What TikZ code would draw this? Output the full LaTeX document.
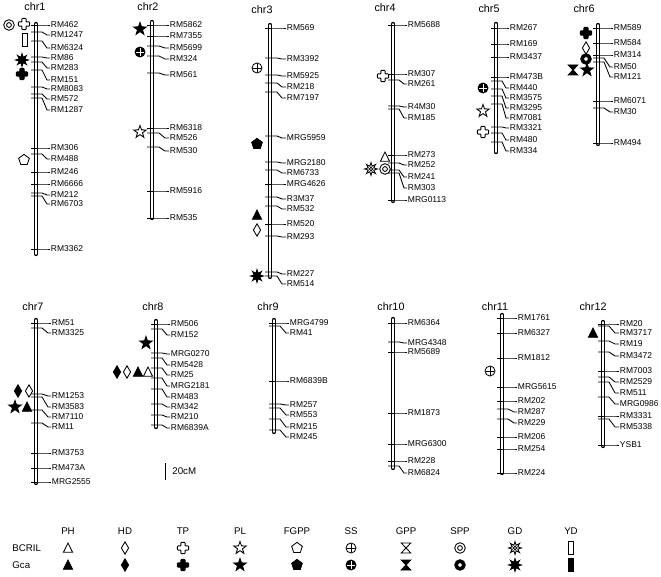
\documentclass[tikz,border=0pt]{standalone}
\usepackage{fontspec}
\setmainfont{Liberation Sans}
\usepackage{xcolor}
\usepackage{tikz}

% trait symbols, #1 = fill (white for BCRIL, black for Gca)
\tikzset{
    ph/.pic={\draw[fill=#1] (0,-5) -- (4.6,4.3) -- (-4.6,4.3) -- cycle;},
    hd/.pic={\draw[fill=#1] (0,-6.2) -- (3.6,0) -- (0,6.2) -- (-3.6,0) -- cycle;},
    tp/.pic={\draw[fill=#1, rounded corners=0.6pt] (-2.1,-5.6) -- (2.1,-5.6) -- (2.1,-2.1) -- (5.6,-2.1) -- (5.6,2.1) -- (2.1,2.1) -- (2.1,5.6) -- (-2.1,5.6) -- (-2.1,2.1) -- (-5.6,2.1) -- (-5.6,-2.1) -- (-2.1,-2.1) -- cycle;},
    pl/.pic={\draw[fill=#1] (-90:6.6) \foreach \a in {-90,-18,54,126,198} {-- ({\a+36}:2.6) -- ({\a+72}:6.6)} -- cycle;},
    fgpp/.pic={\draw[fill=#1] (-90:5.6) -- (-18:5.6) -- (54:5.6) -- (126:5.6) -- (198:5.6) -- cycle;},
    ss/.pic={\colorlet{symin}{-#1}
        \draw[fill=#1] (0,0) circle (5);
        \draw[symin] (-4.3,0) -- (4.3,0) (0,-4.3) -- (0,4.3);},
    gpp/.pic={\draw[fill=#1] (-4.8,-5) -- (4.8,-5) -- (-4.8,5) -- (4.8,5) -- cycle;},
    spp/.pic={\draw[fill=#1] (0,0) circle (5.3);
        \draw[fill=white] (0,0) circle (2.4);},
    gd/.pic={\draw[fill=#1] (0:6.4) \foreach \a in {0,45,...,315} {-- ({\a+22.5}:3) -- ({\a+45}:6.4)} -- cycle;
        \draw (0,0) circle (1.8);},
    yd/.pic={\draw[fill=#1] (-2.2,-6.5) rectangle (2.2,6.5);},
}

\begin{document}
\begin{tikzpicture}[
    x=1pt, y=-1pt, line width=0.85pt,
    chrom/.style={line width=1.45pt, double=white, double distance=1.5pt, line cap=round},
    tick/.style={line width=0.85pt},
    mk/.style={anchor=west, inner sep=0.5pt, font=\fontsize{8.5}{9}\selectfont},
    chrlab/.style={font=\fontsize{10.8}{12}\selectfont, inner sep=1pt},
    leg/.style={font=\fontsize{9.7}{11}\selectfont, inner sep=1pt},
]
\fill[white] (0,0) rectangle (661,577);

% chr1
\node[chrlab] (chr1) at (35,7) {chr1};
\draw[chrom] (36,24) -- (36,254);
\foreach \m/\t/\l [count=\i] in {RM462/25/25, RM1247/32/35, RM6324/41/48, RM86/57/58, RM283/62/68, RM151/70/80, RM8083/87/89, RM572/94/99, RM1287/98/110, RM306/148/148, RM488/154/159, RM246/172/172, RM6666/184/184, RM212/193/195, RM6703/196/204, RM3362/249/249} {
    \node[mk] (c1m\i) at (50,\l) {\m};
    \draw[tick] (31,\t) -- (42,\t) -- (47,\l) -- (c1m\i.west);
}
\pic at (9,25) {spp=white};
\pic at (24,24) {tp=white};
\pic at (25,40) {yd=white};
\pic at (22,60) {gd=black};
\pic at (22,74) {tp=black};
\pic at (24,160) {fgpp=white};

% chr2
\node[chrlab] (chr2) at (148,7) {chr2};
\draw[chrom] (152,22) -- (152,218);
\foreach \m/\t/\l [count=\i] in {RM5862/25/25, RM7355/36/36, RM5699/46/48, RM324/56/59, RM561/73/75, RM6318/128/128, RM526/133/138, RM530/147/151, RM5916/191/191, RM535/218/218} {
    \node[mk] (c2m\i) at (169,\l) {\m};
    \draw[tick] (147,\t) -- (159,\t) -- (165,\l) -- (c2m\i.west);
}
\pic at (140,29) {pl=black};
\pic at (140,52) {ss=black};
\pic at (140,132) {pl=white};

% chr3
\node[chrlab] (chr3) at (262,10) {chr3};
\draw[chrom] (270,25) -- (270,277);
\foreach \m/\t/\l [count=\i] in {RM569/28/28, RM3392/58/59, RM5925/75/76, RM218/83/87, RM7197/92/98, MRG5959/136/138, MRG2180/162/163, RM6733/170/173, MRG4626/184/184, R3M37/197/199, RM532/206/209, RM520/224/224, RM293/236/237, RM227/272/274, RM514/276/284} {
    \node[mk] (c3m\i) at (286,\l) {\m};
    \draw[tick] (265,\t) -- (277,\t) -- (282,\l) -- (c3m\i.west);
}
\pic at (257,68) {ss=white};
\pic at (257,144) {fgpp=black};
\pic at (257,215) {ph=black};
\pic at (257,230) {hd=white};
\pic at (257,276) {gd=black};

% chr4
\node[chrlab] (chr4) at (385,8) {chr4};
\draw[chrom] (393,24) -- (393,201);
\foreach \m/\t/\l [count=\i] in {RM5688/25/25, RM307/74/74, RM261/80/84, R4M30/106/107, RM185/109/118, RM273/155/155, RM252/163/165, RM241/170/177, RM303/173/188, MRG0113/200/200} {
    \node[mk] (c4m\i) at (407,\l) {\m};
    \draw[tick] (388,\t) -- (399,\t) -- (404,\l) -- (c4m\i.west);
}
\pic at (383,76) {tp=white};
\pic at (385,157) {ph=white};
\pic at (385,169) {spp=white};
\pic at (371,169) {gd=white};

% chr5
\node[chrlab] (chr5) at (489,9) {chr5};
\draw[chrom] (496,24) -- (496,152);
\foreach \m/\t/\l [count=\i] in {RM267/28/28, RM169/44/44, RM3437/57/57, RM473B/77/77, RM440/81/88, RM3575/89/98, RM3295/96/108, RM7081/104/118, RM3321/127/128, RM480/133/140, RM334/142/151} {
    \node[mk] (c5m\i) at (509,\l) {\m};
    \draw[tick] (491,\t) -- (502,\t) -- (506,\l) -- (c5m\i.west);
}
\pic at (483,88) {ss=black};
\pic at (483,111) {pl=white};
\pic at (483,132) {tp=white};

% chr6
\node[chrlab] (chr6) at (584,9) {chr6};
\draw[chrom] (598,25) -- (598,144);
\foreach \m/\t/\l [count=\i] in {RM589/28/28, RM584/43/43, RM314/55/55, RM50/58/67, RM121/62/77, RM6071/101/101, RM30/108/112, RM494/143/143} {
    \node[mk] (c6m\i) at (613,\l) {\m};
    \draw[tick] (593,\t) -- (604,\t) -- (610,\l) -- (c6m\i.west);
}
\pic at (586,33) {tp=black};
\pic at (586,48) {hd=white};
\pic at (586,59) {spp=black};
\pic at (573,70) {gpp=black};
\pic at (587,70) {pl=black};

% chr7
\node[chrlab] (chr7) at (33,307) {chr7};
\draw[chrom] (36,320) -- (36,483);
\foreach \m/\t/\l [count=\i] in {RM51/323/323, RM3325/328/333, RM1253/394/396, RM3583/397/407, RM7110/410/417, RM11/423/427, RM3753/453/453, RM473A/468/468, MRG2555/482/482} {
    \node[mk] (c7m\i) at (51,\l) {\m};
    \draw[tick] (31,\t) -- (42,\t) -- (48,\l) -- (c7m\i.west);
}
\pic at (18,391) {hd=black};
\pic at (29,391) {hd=white};
\pic at (15,407) {pl=black};
\pic at (27,407) {ph=black};

% chr8
\node[chrlab] (chr8) at (153,307) {chr8};
\draw[chrom] (156,321) -- (156,427);
\foreach \m/\t/\l [count=\i] in {RM506/324/324, RM152/329/335, MRG0270/353/354, RM5428/358/365, RM25/368/375, MRG2181/378/386, RM483/389/397, RM342/404/407, RM210/415/417, RM6839A/425/428} {
    \node[mk] (c8m\i) at (170,\l) {\m};
    \draw[tick] (151,\t) -- (162,\t) -- (167,\l) -- (c8m\i.west);
}
\pic at (146,343) {pl=black};
\pic at (117,372) {hd=black};
\pic at (127,372) {hd=white};
\pic at (138,372) {ph=black};
\pic at (148,372) {ph=white};

% scale bar
\coordinate (sbtop) at (165,463);
\coordinate (sbbot) at (165,480);
\draw (sbtop) -- (sbbot);
\node[leg, anchor=west] (sblab) at (171,471) {20cM};

% chr9
\node[chrlab] (chr9) at (268,307) {chr9};
\draw[chrom] (274,320) -- (274,432);
\foreach \m/\t/\l [count=\i] in {MRG4799/323/323, RM41/326/333, RM6839B/381/381, RM257/404/405, RM553/408/415, RM215/419/427, RM245/430/437} {
    \node[mk] (c9m\i) at (289,\l) {\m};
    \draw[tick] (269,\t) -- (280,\t) -- (286,\l) -- (c9m\i.west);
}

% chr10
\node[chrlab] (chr10) at (391,307) {chr10};
\draw[chrom] (393,319) -- (393,468);
\foreach \m/\t/\l [count=\i] in {RM6364/323/323, MRG4348/342/343, RM5689/352/352, RM1873/413/413, MRG6300/444/444, RM228/461/461, RM6824/466/473} {
    \node[mk] (c10m\i) at (407,\l) {\m};
    \draw[tick] (388,\t) -- (399,\t) -- (404,\l) -- (c10m\i.west);
}

% chr11
\node[chrlab] (chr11) at (495,307) {chr11};
\draw[chrom] (502,315) -- (502,473);
\foreach \m/\t/\l [count=\i] in {RM1761/318/318, RM6327/333/333, RM1812/358/358, MRG5615/387/387, RM202/401/401, RM287/409/412, RM229/419/423, RM206/437/437, RM254/449/449, RM224/473/473} {
    \node[mk] (c11m\i) at (517,\l) {\m};
    \draw[tick] (497,\t) -- (508,\t) -- (514,\l) -- (c11m\i.west);
}
\pic at (490,371) {ss=white};

% chr12
\node[chrlab] (chr12) at (593,307) {chr12};
\draw[chrom] (603,322) -- (603,446);
\foreach \m/\t/\l [count=\i] in {RM20/324/324, RM3717/326/333, RM19/341/344, RM3472/352/356, RM7003/371/371, RM2529/377/382, RM511/382/393, MRG0986/397/404, RM3331/416/416, RM5338/419/427, YSB1/445/445} {
    \node[mk] (c12m\i) at (619,\l) {\m};
    \draw[tick] (598,\t) -- (609,\t) -- (615,\l) -- (c12m\i.west);
}
\pic at (593,333) {ph=black};

% Legend
\foreach \t/\x in {PH/68, HD/125, TP/183, PL/240, FGPP/297, SS/351, GPP/406, SPP/460, GD/515, YD/571} {
    \node[leg] (h\t) at (\x,531) {\t};
}
\node[leg, anchor=west] (bcril) at (11,548) {BCRIL};
\node[leg, anchor=west] (gca) at (11,565) {Gca};
\foreach \s/\x in {ph/68, hd/125, tp/183, pl/240, fgpp/297, ss/351, gpp/406, spp/460, gd/515, yd/571} {
    \pic at (\x,548) {\s=white};
    \pic at (\x,565) {\s=black};
}

\end{tikzpicture}
\end{document}
